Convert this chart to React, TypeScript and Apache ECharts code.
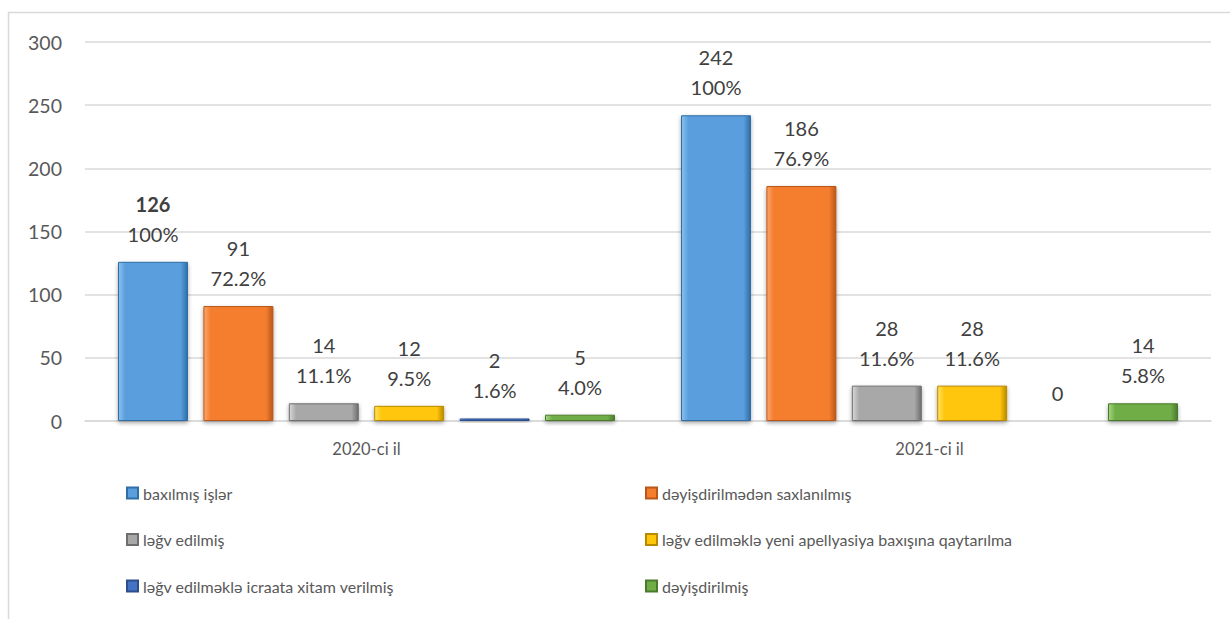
import React, { useEffect, useRef } from "react";
import * as echarts from "echarts";

const categories = ["2020-ci il", "2021-ci il"];
const seriesNames = [
  "baxılmış işlər",
  "dəyişdirilmədən saxlanılmış",
  "ləğv edilmiş",
  "ləğv edilməklə yeni apellyasiya baxışına qaytarılma",
  "ləğv edilməklə icraata xitam verilmiş",
  "dəyişdirilmiş",
];
const baxilmis = [126, 242];
const saxlanilmis = [91, 186];
const legvEdilmis = [14, 28];
const qaytarilma = [12, 28];
const xitam = [2, 0];
const deyisdirilmis = [5, 14];
const values = [baxilmis, saxlanilmis, legvEdilmis, qaytarilma, xitam, deyisdirilmis];

const pctBaxilmis = ["100%", "100%"];
const pctSaxlanilmis = ["72.2%", "76.9%"];
const pctLegvEdilmis = ["11.1%", "11.6%"];
const pctQaytarilma = ["9.5%", "11.6%"];
const pctXitam = ["1.6%", ""];
const pctDeyisdirilmis = ["4.0%", "5.8%"];
const percents = [pctBaxilmis, pctSaxlanilmis, pctLegvEdilmis, pctQaytarilma, pctXitam, pctDeyisdirilmis];

const yTicks = { min: 0, max: 300, interval: 50 };

const palette = [
  { light: "#8CC0EE", base: "#5A9EDD", dark: "#2F6EA6" },
  { light: "#FBA66A", base: "#F47D2E", dark: "#B9561A" },
  { light: "#D8D8D8", base: "#A8A8A8", dark: "#6E6E6E" },
  { light: "#FFE066", base: "#FFC60A", dark: "#B98A00" },
  { light: "#7FA2E0", base: "#4472C4", dark: "#2C4F8C" },
  { light: "#A6D77F", base: "#70AD47", dark: "#4A7A2C" },
];

const FONT = "Lato";

export default function App() {
  const ref = useRef<HTMLDivElement>(null);
  useEffect(() => {
    if (!ref.current) return;
    const chart = echarts.init(ref.current, null, { renderer: "svg" });
    const series = seriesNames.map((name, si) => {
      const c = palette[si];
      return {
        name,
        type: "bar",
        barWidth: 70,
        barGap: "22%",
        data: values[si],
        itemStyle: {
          color: new echarts.graphic.LinearGradient(0, 0, 1, 0, [
            { offset: 0, color: c.light },
            { offset: 0.1, color: c.base },
            { offset: 0.9, color: c.base },
            { offset: 1, color: c.dark },
          ]),
          borderColor: c.dark,
          borderWidth: 1,
          shadowColor: "rgba(0,0,0,0.35)",
          shadowBlur: 4,
          shadowOffsetY: 2,
        },
        label: {
          show: true,
          position: "top",
          distance: 13,
          color: "#404040",
          fontFamily: FONT,
          fontSize: 20,
          lineHeight: 30,
          formatter: (p: any) => {
            if (p.value === 0) return "0";
            const pct = percents[si][p.dataIndex];
            if (si === 0 && p.dataIndex === 0) return `{b|${p.value}}\n${pct}`;
            return `${p.value}\n${pct}`;
          },
          rich: {
            b: { fontWeight: "bold", fontFamily: FONT, fontSize: 20, lineHeight: 30, color: "#404040" },
          },
        },
      };
    });
    const legendCommon = {
      orient: "vertical",
      itemWidth: 11,
      itemHeight: 11,
      itemGap: 26.5,
      padding: 0,
      icon: "rect",
      textStyle: { fontFamily: FONT, fontSize: 16, color: "#595959", lineHeight: 20 },
    };
    chart.setOption({
      animation: false,
      textStyle: { fontFamily: FONT },
      grid: { left: 85, right: 19, top: 42, bottom: 198, containLabel: false },
      xAxis: {
        type: "category",
        data: categories,
        axisLine: { lineStyle: { color: "#d9d9d9", width: 1.5 } },
        axisTick: { show: false },
        axisLabel: { color: "#595959", fontFamily: FONT, fontSize: 16.5, margin: 19 },
      },
      yAxis: {
        type: "value",
        min: yTicks.min,
        max: yTicks.max,
        interval: yTicks.interval,
        axisLine: { show: false },
        axisTick: { show: false },
        splitLine: { lineStyle: { color: "#d9d9d9", width: 1.5 } },
        axisLabel: { color: "#595959", fontFamily: FONT, fontSize: 19.5, margin: 23 },
      },
      legend: [
        { ...legendCommon, left: 126, top: 483, data: [seriesNames[0], seriesNames[2], seriesNames[4]] },
        { ...legendCommon, left: 645, top: 483, data: [seriesNames[1], seriesNames[3], seriesNames[5]] },
      ],
      graphic: [
        {
          type: "rect",
          silent: true,
          shape: { x: 8.5, y: 12.5, width: 1300, height: 700 },
          style: { fill: "none", stroke: "#d9d9d9", lineWidth: 1.5 },
        },
      ],
      series,
    });
    return () => chart.dispose();
  }, []);
  return (
    <div
      ref={ref}
      style={{ position: "absolute", left: 0, top: 0, width: 1230, height: 619, background: "#fff" }}
    />
  );
}
